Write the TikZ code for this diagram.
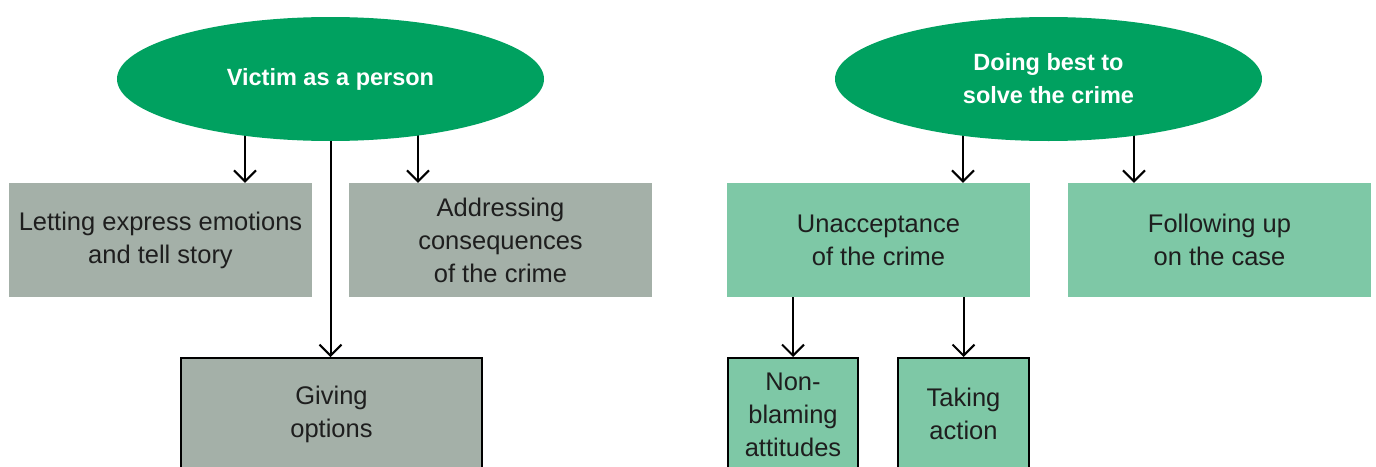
\documentclass[tikz,border=0pt]{standalone}
\usepackage{fontspec}
\setmainfont{Liberation Sans}
\usetikzlibrary{shapes.geometric,arrows.meta,positioning}
\definecolor{ellgreen}{HTML}{00A160}
\definecolor{boxgray}{HTML}{A4B0A8}
\definecolor{boxgreen}{HTML}{7EC8A6}
\definecolor{txt}{HTML}{1E1E1E}
\tikzset{
  boxfont/.style={font=\fontsize{25.5}{33}\selectfont},
  oval/.style={ellipse, fill=ellgreen, draw=none, minimum width=427pt, minimum height=124pt, inner sep=0pt, text=white, align=center, font=\fontsize{23.5}{33}\selectfont\bfseries},
  flatbox/.style={rectangle, draw=none, minimum width=303pt, minimum height=114pt, inner sep=0pt, text=txt, align=center, boxfont},
  grayfill/.style={fill=boxgray},
  greenfill/.style={fill=boxgreen},
  framedbox/.style={rectangle, draw=black, line width=2pt, inner sep=0pt},
  label/.style={text=txt, align=center, boxfont},
  arr/.style={draw=black, line width=2pt, -{Straight Barb[length=11pt,width=22pt,line width=2pt]}}
}
\begin{document}
\begin{tikzpicture}[x=1pt,y=-1pt]
\useasboundingbox (0,0) rectangle (1376,466);
\clip (0,0) rectangle (1376,466);
\coordinate (a1) at (245,120);
\coordinate (a2) at (418,120);
\coordinate (a3) at (963,120);
\coordinate (a4) at (1134,120);
% boxes
\node[flatbox,grayfill] (b1) at (160.5,240) {Letting express emotions\\and tell story};
\node[flatbox,grayfill] (b2) at (500.5,240) {Addressing\\consequences\\of the crime};
\node[framedbox,fill=boxgray,minimum width=301pt,minimum height=140pt,anchor=north] (b3) at (331.5,357) {};
\node[label] (t3) at (331.5,414) {Giving\\options};
\node[flatbox,greenfill] (b4) at (878.5,240) {Unacceptance\\of the crime};
\node[flatbox,greenfill] (b5) at (1219.5,240) {Following up\\on the case};
\node[framedbox,fill=boxgreen,minimum width=130pt,minimum height=140pt,anchor=north] (b6) at (793,357) {};
\node[label] (t6) at (793,415) {Non-\\blaming\\attitudes};
\node[framedbox,fill=boxgreen,minimum width=131pt,minimum height=140pt,anchor=north] (b7) at (963.5,357) {};
\node[label] (t7) at (963.5,414) {Taking\\action};
% arrows
\draw[arr] (a1) -- (a1 |- b1.north);
\draw[arr] (a2) -- (a2 |- b2.north);
\draw[arr] (a3) -- (a3 |- b4.north);
\draw[arr] (a4) -- (a4 |- b5.north);
\draw[arr] (b6.north |- b4.south) -- (b6.north);
\draw[arr] (b7.north |- b4.south) -- (b7.north);
% ellipses
\node[oval] (e1) at (330.5,79) {Victim as a person};
\node[oval] (e2) at (1048.5,79) {Doing best to\\solve the crime};
\draw[arr] (e1.south) -- (e1.south |- b3.north);
\end{tikzpicture}
\end{document}
